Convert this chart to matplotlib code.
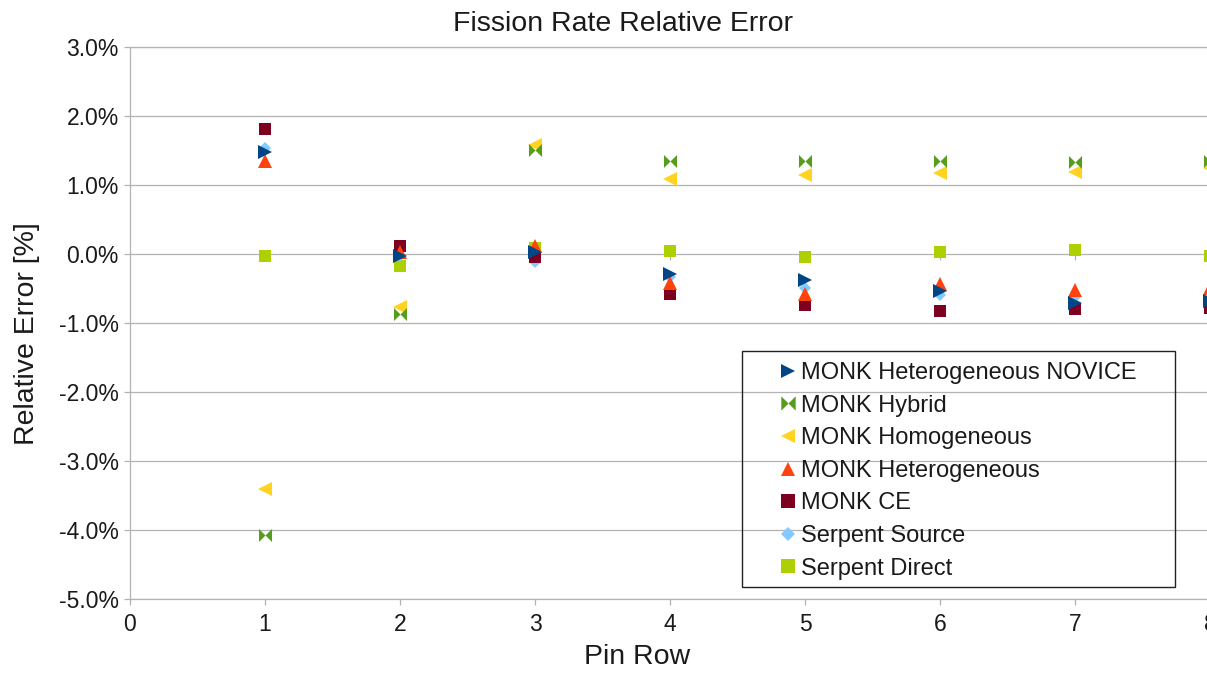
import matplotlib
matplotlib.use("Agg")
import matplotlib.pyplot as plt
from matplotlib.ticker import PercentFormatter
from matplotlib.patches import Rectangle

# pin rows
pin_row = [1, 2, 3, 4, 5, 6, 7, 8]

# relative error [%] per series
monk_het_novice = [1.48, -0.03, 0.03, -0.29, -0.38, -0.54, -0.71, -0.68]
monk_hybrid = [-4.08, -0.87, 1.50, 1.34, 1.34, 1.34, 1.33, 1.34]
monk_homogeneous = [-3.41, -0.77, 1.58, 1.09, 1.14, 1.17, 1.18, 1.24]
monk_het = [1.35, 0.03, 0.11, -0.42, -0.58, -0.44, -0.53, -0.49]
monk_ce = [1.81, 0.11, -0.05, -0.58, -0.74, -0.83, -0.80, -0.78]
serpent_source = [1.54, -0.03, -0.12, -0.33, -0.50, -0.60, -0.62, -0.64]
serpent_direct = [-0.03, -0.18, 0.08, 0.04, -0.04, 0.03, 0.05, -0.03]

series_names = ["MONK Heterogeneous NOVICE", "MONK Hybrid", "MONK Homogeneous",
                "MONK Heterogeneous", "MONK CE", "Serpent Source", "Serpent Direct"]
series_vals = [monk_het_novice, monk_hybrid, monk_homogeneous, monk_het,
               monk_ce, serpent_source, serpent_direct]

y_ticks = [-5, -4, -3, -2, -1, 0, 1, 2, 3]
x_ticks = [0, 1, 2, 3, 4, 5, 6, 7, 8]

bowtie = [(-1, 1), (0, 0), (1, 1), (1, -1), (0, 0), (-1, -1)]
colors = ["#004586", "#579d1c", "#ffd320", "#ff420e", "#7e0021", "#83caff", "#aecf00"]
markers = [">", bowtie, "<", "^", "s", "D", "s"]
msizes = [9.4, 9.4, 9.4, 9.6, 9.2, 6.6, 9.2]

grid_c = "#b3b3b3"
text_c = "#1a1a1a"

plt.rcParams['font.family'] = ['Liberation Sans', 'DejaVu Sans']
plt.rcParams['axes.unicode_minus'] = False

fig = plt.figure(figsize=(12.07, 6.74), dpi=100)
ax = fig.add_axes([130/1207, 75.5/674, 1080/1207, 551.5/674])

handles = [None]*len(series_vals)
# later series drawn first so the first series sits on top
for i in reversed(range(len(series_vals))):
	h, = ax.plot(pin_row, series_vals[i], linestyle="none", marker=markers[i],
	             markersize=msizes[i], color=colors[i], markeredgewidth=0,
	             label=series_names[i])
	handles[i] = h

ax.set_xlim(0, 8)
ax.set_ylim(-5, 3)
ax.set_xticks(x_ticks)
ax.set_yticks(y_ticks)
ax.yaxis.set_major_formatter(PercentFormatter(xmax=100, decimals=1))
ax.grid(True, axis="y", color=grid_c, linewidth=0.9)
ax.set_axisbelow(True)
for s in ["left", "bottom", "top"]:
	ax.spines[s].set_color(grid_c)
	ax.spines[s].set_linewidth(0.9)
ax.spines["right"].set_visible(False)
ax.tick_params(axis="both", direction="out", length=4.5, width=0.9, color=grid_c,
               labelsize=16.5, labelcolor=text_c)
ax.tick_params(axis="x", pad=6)
ax.tick_params(axis="y", pad=3.5)

# axis tick marks at the zero line
sec = ax.secondary_xaxis(0.625)
sec.set_xticks(x_ticks[1:])
sec.tick_params(direction="in", length=4.5, width=0.9, color=grid_c,
                labeltop=False, labelbottom=False)
sec.spines["top"].set_visible(False)
sec.spines["bottom"].set_visible(False)

ax.set_title("Fission Rate Relative Error", fontsize=20.5, color=text_c, pad=11.5, x=0.4565)
ax.set_xlabel("Pin Row", fontsize=20.5, color=text_c)
ax.set_ylabel("Relative Error [%]", fontsize=20.5, color=text_c)
ax.xaxis.set_label_coords(0.47, -0.0825)
ax.yaxis.set_label_coords(-0.083, 0.48)

leg = ax.legend(handles=handles, loc="upper left", bbox_to_anchor=(0.6028, 0.429),
                frameon=False, fontsize=17, handlelength=0.6, handletextpad=0.25,
                labelspacing=0.45, borderpad=0, borderaxespad=0, numpoints=1,
                markerscale=1.1)
for t in leg.get_texts():
	t.set_color(text_c)
ax.add_patch(Rectangle((0.5667, 0.0209), 0.9676-0.5667, 0.4488-0.0209,
                       transform=ax.transAxes, fill=False, edgecolor="#222222",
                       linewidth=1.0, zorder=4))

plt.savefig("out.png", dpi=100)
